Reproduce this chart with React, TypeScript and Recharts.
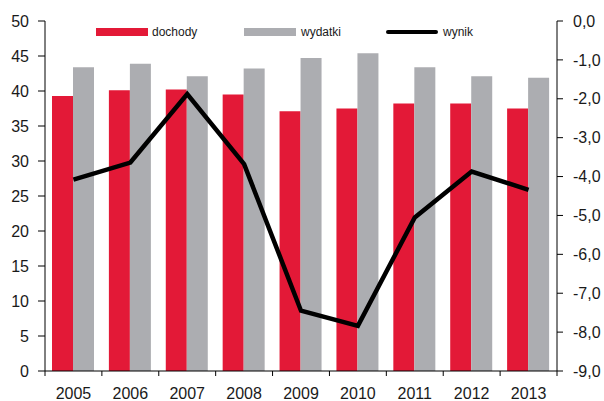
import React from "react";
import {
  ComposedChart,
  Bar,
  Line,
  XAxis,
  YAxis,
} from "recharts";

const years = ["2005", "2006", "2007", "2008", "2009", "2010", "2011", "2012", "2013"];
const dochody = [39.3, 40.1, 40.2, 39.5, 37.1, 37.5, 38.2, 38.2, 37.5];
const wydatki = [43.4, 43.9, 42.1, 43.2, 44.7, 45.4, 43.4, 42.1, 41.9];
const wynik = [-4.08, -3.64, -1.88, -3.68, -7.45, -7.84, -5.05, -3.87, -4.34];
const leftTicks = [0, 5, 10, 15, 20, 25, 30, 35, 40, 45, 50];
const rightTicks = [0, -1, -2, -3, -4, -5, -6, -7, -8, -9];

const data = years.map((year, i) => ({
  year,
  dochody: dochody[i],
  wydatki: wydatki[i],
  wynik: wynik[i],
}));

const W = 604;
const H = 401;
const LEFT_W = 45;
const RIGHT_W = 47;
const TOP = 21;
const XAXIS_H = 30;
const BAND = (W - LEFT_W - RIGHT_W) / years.length;

const RED = "#E31937";
const GRAY = "#ACADB1";
const TEXT = "#1a1a1a";
const FONT = "'Liberation Sans', Arial, sans-serif";

function YearTick(props: any) {
  const { x, y, payload, index } = props;
  const half = BAND / 2;
  return (
    <g>
      <line x1={x - half} y1={y} x2={x - half} y2={y + 5} stroke="#000" />
      {index === years.length - 1 && (
        <line x1={x + half} y1={y} x2={x + half} y2={y + 5} stroke="#000" />
      )}
      <text x={x} y={y + 28} textAnchor="middle" fontSize={16} fill={TEXT} fontFamily={FONT}>
        {payload.value}
      </text>
    </g>
  );
}

function LegendBox() {
  const item = (left: number, swatch: React.ReactNode, label: string, textLeft: number) => (
    <>
      <div style={{ position: "absolute", left, top: 28, width: 52, height: 8 }}>{swatch}</div>
      <div
        style={{
          position: "absolute",
          left: textLeft,
          top: 24,
          fontSize: 12,
          lineHeight: "16px",
          color: TEXT,
          fontFamily: FONT,
        }}
      >
        {label}
      </div>
    </>
  );
  return (
    <>
      {item(96, <div style={{ width: 52, height: 8, background: RED }} />, "dochody", 152)}
      {item(244, <div style={{ width: 52, height: 8, background: GRAY }} />, "wydatki", 301)}
      {item(
        386,
        <div style={{ width: 52, height: 4, marginTop: 2, background: "#000", borderRadius: 2 }} />,
        "wynik",
        443
      )}
    </>
  );
}

export default function App() {
  return (
    <div style={{ position: "absolute", left: 0, top: 0, width: W, height: H, background: "#fff" }}>
      <ComposedChart
        width={W}
        height={H}
        data={data}
        margin={{ top: TOP, right: 0, bottom: 0, left: 0 }}
        barCategoryGap={7}
        barGap={0}
      >
        <XAxis
          dataKey="year"
          height={XAXIS_H}
          axisLine={{ stroke: "#000" }}
          tickLine={false}
          tickSize={0}
          tickMargin={0}
          interval={0}
          tick={<YearTick />}
        />
        <YAxis
          yAxisId="left"
          width={LEFT_W}
          domain={[0, 50]}
          ticks={leftTicks}
          interval={0}
          axisLine={{ stroke: "#000" }}
          tickLine={{ stroke: "#000" }}
          tickSize={7}
          tickMargin={9}
          tick={{ fontSize: 16, fill: TEXT, fontFamily: FONT }}
        />
        <YAxis
          yAxisId="right"
          orientation="right"
          width={RIGHT_W}
          domain={[-9, 0]}
          ticks={rightTicks}
          interval={0}
          axisLine={{ stroke: "#000" }}
          tickLine={{ stroke: "#000" }}
          tickSize={6}
          tickMargin={10}
          tickFormatter={(v: number) => v.toFixed(1).replace(".", ",")}
          tick={{ fontSize: 16, fill: TEXT, fontFamily: FONT }}
        />
        <Bar yAxisId="left" dataKey="dochody" fill={RED} isAnimationActive={false} />
        <Bar yAxisId="left" dataKey="wydatki" fill={GRAY} isAnimationActive={false} />
        <Line
          yAxisId="right"
          dataKey="wynik"
          stroke="#000"
          strokeWidth={4.5}
          dot={false}
          type="linear"
          isAnimationActive={false}
        />
      </ComposedChart>
      <LegendBox />
    </div>
  );
}
